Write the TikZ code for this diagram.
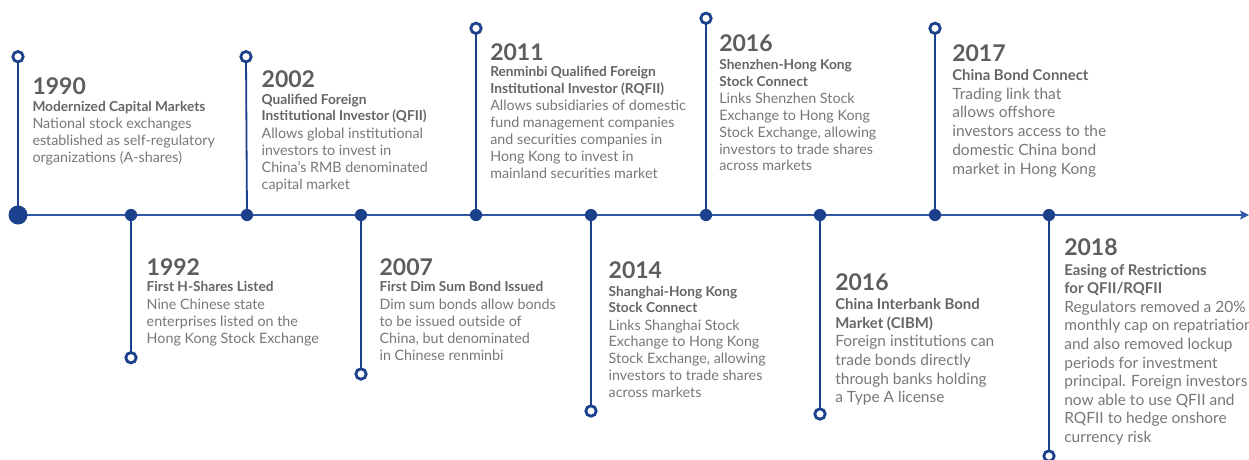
\documentclass[tikz,border=0pt]{standalone}
\usepackage{fontspec}
\setmainfont{Lato}
\usetikzlibrary{arrows.meta}

\definecolor{navy}{RGB}{27,65,140}
\definecolor{axisblue}{RGB}{48,88,164}
\definecolor{yeargray}{RGB}{92,93,96}
\definecolor{titlegray}{RGB}{100,101,104}
\definecolor{bodygray}{RGB}{118,119,122}

\tikzset{
  every node/.style={inner sep=0pt, outer sep=0pt, anchor=base west},
  yr/.style={font=\fontsize{23}{23}\selectfont\bfseries, text=yeargray},
  ttl/.style={font=\fontsize{13.7}{13.7}\selectfont\bfseries, text=titlegray},
  bdy/.style={font=\fontsize{14.3}{14.3}\selectfont, text=bodygray},
  ttlbig/.style={font=\fontsize{14.9}{14.9}\selectfont\bfseries, text=titlegray},
  bdybig/.style={font=\fontsize{15.5}{15.5}\selectfont, text=bodygray},
  stem/.style={draw=navy, line width=1.8pt},
  ring/.style={circle, draw=navy, line width=2.8pt, fill=white,
               minimum size=10.4pt, anchor=center},
  dot/.style={circle, fill=navy, minimum size=12.2pt, anchor=center},
  bigdot/.style={circle, fill=navy, minimum size=19pt, anchor=center},
}

% a stack of text lines, one node per line: prefix, style, x, first baseline, line step, lines
\newcommand\textlines[6]{%
  \foreach \ln [count=\k] in {#6}
    \node[#2] (#1-\k) at (#3,{#4+(\k-1)*#5}) {\ln};%
}

\begin{document}
\begin{tikzpicture}[x=1pt,y=-1pt]
\clip (0,0) rectangle (1249,459);

% axis
\coordinate (start) at (18,215);
\coordinate (tip) at (1249,215);
\draw[axisblue, line width=2.3pt, -{Stealth[length=9pt,width=9pt,inset=2pt]}] (start) -- (tip);

% dots on the axis
\node[bigdot] (d0) at (18,215) {};
\foreach \x [count=\i] in {131,247,361,476,591,706,820,935,1049}
  \node[dot] (d\i) at (\x,215) {};

% rings at the ends of the stems
\node[ring] (r0) at (18,56.7) {};
\node[ring] (r1) at (131,357.7) {};
\node[ring] (r2) at (246,56.7) {};
\node[ring] (r3) at (361,374) {};
\node[ring] (r4) at (476,28.3) {};
\node[ring] (r5) at (591,411) {};
\node[ring] (r6) at (706,18.3) {};
\node[ring] (r7) at (820,414) {};
\node[ring] (r8) at (935,28.3) {};
\node[ring] (r9) at (1049,456) {};

\foreach \i in {0,...,9}
  \draw[stem] (d\i) -- (r\i);

% 1990
\node[yr] (y1990) at (32.5,94.3) {1990};
\textlines{t1990}{ttl}{32.5}{111}{16.7}{Modernized Capital Markets}
\textlines{b1990}{bdy}{32.5}{128.3}{17}{National stock exchanges,established as self-regulatory,organizations (A-shares)}

% 1992
\node[yr] (y1992) at (146.7,275) {1992};
\textlines{t1992}{ttl}{146.7}{291.7}{16.7}{First H-Shares Listed}
\textlines{b1992}{bdy}{146.7}{309}{17}{Nine Chinese state,enterprises listed on the,Hong Kong Stock Exchange}

% 2002
\node[yr] (y2002) at (261.7,87.3) {2002};
\textlines{t2002}{ttl}{261.7}{104}{16.7}{Qualified Foreign,Institutional Investor (QFII)}
\textlines{b2002}{bdy}{261.7}{138}{17}{Allows global institutional,investors to invest in,China’s RMB denominated,capital market}

% 2007
\node[yr] (y2007) at (379.6,275) {2007};
\textlines{t2007}{ttl}{379.6}{291.7}{16.7}{First Dim Sum Bond Issued}
\textlines{b2007}{bdy}{379.6}{309}{17}{Dim sum bonds allow bonds,to be issued outside of,{China, but denominated},in Chinese renminbi}

% 2011
\node[yr] (y2011) at (490.3,60) {2011};
\textlines{t2011}{ttl}{490.3}{76.7}{16.7}{Renminbi Qualified Foreign,Institutional Investor (RQFII)}
\textlines{b2011}{bdy}{490.3}{110.7}{17}{Allows subsidiaries of domestic,fund management companies,and securities companies in,Hong Kong to invest in,mainland securities market}

% 2014
\node[yr] (y2014) at (608.7,278.3) {2014};
\textlines{t2014}{ttl}{608.7}{296}{16.7}{Shanghai-Hong Kong,Stock Connect}
\textlines{b2014}{bdy}{608.7}{330}{16.85}{Links Shanghai Stock,Exchange to Hong Kong,{Stock Exchange, allowing},investors to trade shares,across markets}

% 2016, Shenzhen
\node[yr] (y2016a) at (719.3,51.7) {2016};
\textlines{t2016a}{ttl}{719.3}{69}{17}{Shenzhen-Hong Kong,Stock Connect}
\textlines{b2016a}{bdy}{719.3}{103.3}{16.9}{Links Shenzhen Stock,Exchange to Hong Kong,{Stock Exchange, allowing},investors to trade shares,across markets}

% 2016, CIBM
\node[yr] (y2016b) at (835.3,290) {2016};
\textlines{t2016b}{ttlbig}{835.3}{309}{19}{China Interbank Bond,Market (CIBM)}
\textlines{b2016b}{bdybig}{835.3}{346.7}{18.7}{Foreign institutions can,trade bonds directly,through banks holding,a Type A license}

% 2017
\node[yr] (y2017) at (952.3,61.7) {2017};
\textlines{t2017}{ttlbig}{952.3}{80}{19}{China Bond Connect}
\textlines{b2017}{bdybig}{952.3}{99}{18.75}{Trading link that,allows offshore,investors access to the,domestic China bond,market in Hong Kong}

% 2018
\node[yr] (y2018) at (1064.3,255.7) {2018};
\textlines{t2018}{ttlbig}{1064.3}{275.7}{17.6}{Easing of Restrictions,for QFII/RQFII}
\textlines{b2018}{bdybig}{1064.3}{312.3}{18.6}{Regulators removed a 20\%,monthly cap on repatriation,and also removed lockup,periods for investment,principal. Foreign investors,now able to use QFII and,RQFII to hedge onshore,currency risk}
\end{tikzpicture}
\end{document}
